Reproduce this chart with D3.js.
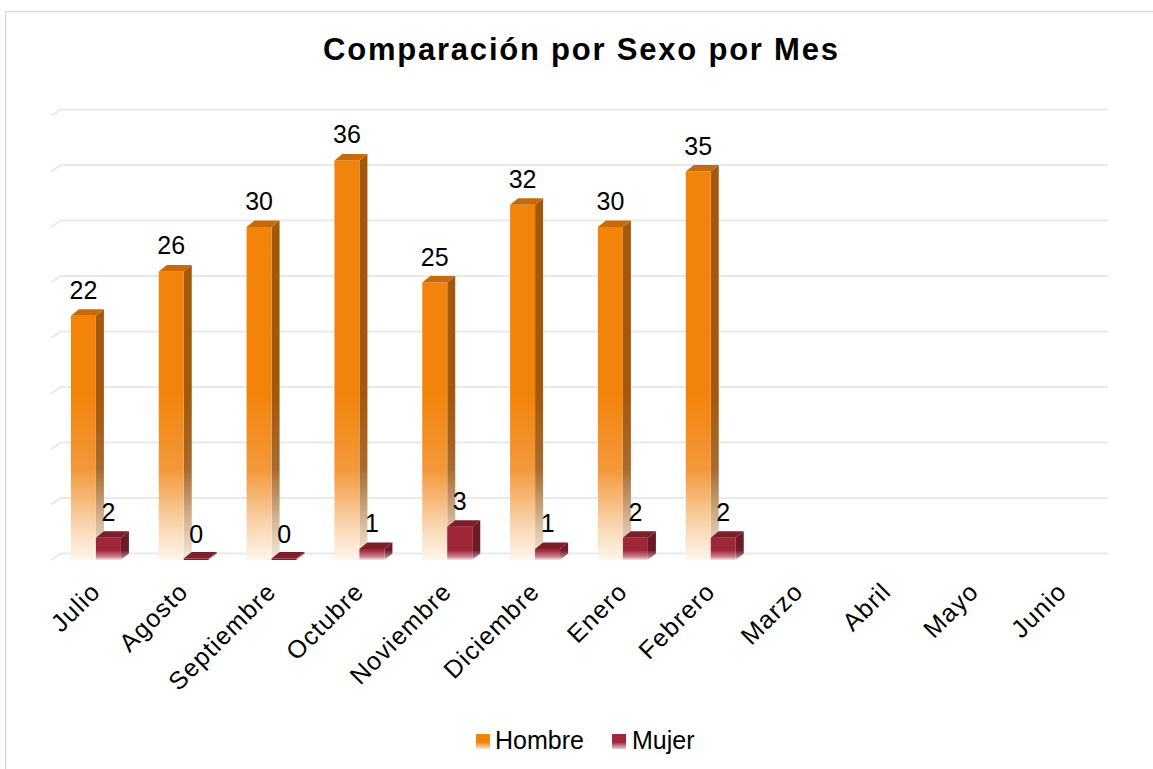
<!DOCTYPE html>
<html>
<head>
<meta charset="utf-8">
<script src="https://cdn.jsdelivr.net/npm/d3@7"></script>
<style>
  html, body { margin: 0; padding: 0; background: #ffffff; }
  svg { display: block; }
  text { font-family: "Liberation Sans", Arial, sans-serif; fill: #000; }
</style>
</head>
<body>
<svg id="chart" width="1153" height="769"></svg>
<script>
// ---- data ----
const months = ["Julio", "Agosto", "Septiembre", "Octubre", "Noviembre", "Diciembre",
                "Enero", "Febrero", "Marzo", "Abril", "Mayo", "Junio"];
const seriesNames = ["Hombre", "Mujer"];
const hombre = [22, 26, 30, 36, 25, 32, 30, 35, null, null, null, null];
const mujer  = [2, 0, 0, 1, 3, 1, 2, 2, null, null, null, null];
const gridTicks = [0, 5, 10, 15, 20, 25, 30, 35, 40];
const chartTitle = "Comparación por Sexo por Mes";

// ---- setup ----
const svg = d3.select("#chart");
const W = 1153, H = 769;
const DX = 8, DY = -6.5;        // bar depth offset
const GDX = 10;                 // gridline side-wall offset

const x = d3.scaleBand().domain(months).range([52, 1106]).padding(0);
const yBack = d3.scaleLinear().domain([0, 40]).range([553.5, 109.5]);
const yFront = v => yBack(v) - DY;
const barW = 25;
const inner = d3.scaleBand().domain(seriesNames).range([-barW, barW]).padding(0);

const defs = svg.append("defs");
function grad(id, stops, y1, y2) {
  const g = defs.append("linearGradient").attr("id", id)
    .attr("gradientUnits", "userSpaceOnUse")
    .attr("x1", 0).attr("x2", 0).attr("y1", y1).attr("y2", y2);
  stops.forEach(s => g.append("stop").attr("offset", s[0]).attr("stop-color", s[1]));
}
const base = yFront(0);
grad("hFront", [[0, "#F2840C"], [0.45, "#F3983A"], [0.8, "#F9D7B2"], [1, "#FEF5EC"]], 395, base);
grad("hSide", [[0, "#A5580B"], [0.45, "#A86B2E"], [0.8, "#D9BFA2"], [1, "#F3E9DE"]], 395, base);
grad("mFront", [[0, "#A0263A"], [0.45, "#A0263A"], [0.8, "#C9788A"], [1, "#F6E4E8"]], base - 18, base);
grad("mSide", [[0, "#6E1A26"], [0.45, "#6E1A26"], [0.8, "#A87580"], [1, "#EEDDE0"]], base - 18, base);
grad("legH", [[0, "#F2840C"], [0.55, "#F2840C"], [1, "#FCE6CE"]], 734, 749);
grad("legM", [[0, "#A0263A"], [0.55, "#A0263A"], [1, "#EBC9CF"]], 734, 749);

const style = {
  Hombre: { front: "url(#hFront)", side: "url(#hSide)", top: "#C96A0A" },
  Mujer:  { front: "url(#mFront)", side: "url(#mSide)", top: "#7E1E2D" }
};

// ---- border ----
svg.append("path").attr("d", `M5.5,${H} L5.5,11.5 L${W},11.5`)
  .attr("fill", "none").attr("stroke", "#d9d9d9").attr("stroke-width", 1.5);

// ---- title ----
svg.append("text").attr("x", 580.5).attr("y", 60)
  .attr("text-anchor", "middle")
  .style("font-size", "31px").style("font-weight", "bold")
  .attr("textLength", 515).attr("lengthAdjust", "spacing")
  .text(chartTitle);

// ---- gridlines ----
const grid = svg.append("g");
gridTicks.forEach(v => {
  const yb = yBack(v);
  grid.append("path")
    .attr("d", `M${x.range()[0] - 1},${yb - DY} L${x.range()[0] - 1 + GDX},${yb} L1108,${yb}`)
    .attr("fill", "none").attr("stroke", "#e9e9e9").attr("stroke-width", 2);
});

// ---- bars ----
const barsG = svg.append("g");
const rows = [];
months.forEach((m, i) => {
  [["Hombre", hombre[i]], ["Mujer", mujer[i]]].forEach(([s, v]) => {
    if (v === null) return;
    rows.push({ m, s, v });
  });
});

rows.forEach(d => {
  const x0 = x(d.m) + x.bandwidth() / 2 + inner(d.s);
  const w = inner.bandwidth();
  let yT = yFront(d.v);
  const yB = yFront(0);
  if (yB - yT < 1.5) yT = yB - 1.5;
  const st = style[d.s];
  const g = barsG.append("g");
  // side
  g.append("path")
    .attr("d", `M${x0 + w},${yT} L${x0 + w + DX},${yT + DY} L${x0 + w + DX},${yB + DY} L${x0 + w},${yB} Z`)
    .attr("fill", st.side);
  // front
  g.append("rect").attr("x", x0).attr("y", yT).attr("width", w).attr("height", yB - yT)
    .attr("fill", d.v === 0 ? st.top : st.front);
  // top
  g.append("path")
    .attr("d", `M${x0},${yT} L${x0 + DX},${yT + DY} L${x0 + w + DX},${yT + DY} L${x0 + w},${yT} Z`)
    .attr("fill", st.top);
  // label
  svg.append("text")
    .attr("x", x0 + w / 2).attr("y", yFront(d.v) - 17)
    .attr("text-anchor", "middle").style("font-size", "25px")
    .text(d.v);
});

// ---- x axis labels ----
months.forEach(m => {
  const cx = x(m) + x.bandwidth() / 2 + 6;
  const cy = 593;
  svg.append("text")
    .attr("transform", `translate(${cx},${cy}) rotate(-45)`)
    .attr("text-anchor", "end")
    .style("font-size", "25px").style("letter-spacing", "1.2px")
    .text(m);
});

// ---- legend ----
const legendItems = [
  { name: seriesNames[0], fill: "url(#legH)", mx: 476, tx: 495 },
  { name: seriesNames[1], fill: "url(#legM)", mx: 612, tx: 632 }
];
legendItems.forEach(it => {
  svg.append("rect").attr("x", it.mx).attr("y", 734).attr("width", 14).attr("height", 15)
    .attr("fill", it.fill);
  svg.append("text").attr("x", it.tx).attr("y", 749)
    .style("font-size", "25px")
    .text(it.name);
});
</script>
</body>
</html>
